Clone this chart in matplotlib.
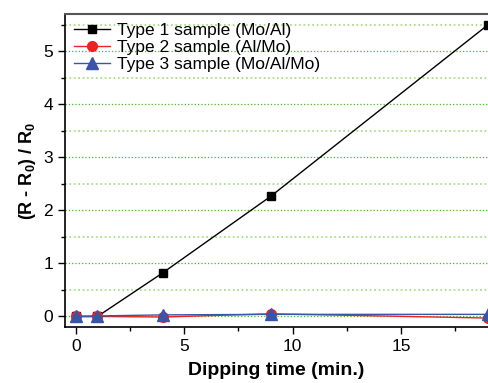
import matplotlib
matplotlib.use('Agg')
import matplotlib.pyplot as plt
from matplotlib.ticker import MultipleLocator

plt.rcParams['font.family'] = ['Liberation Sans', 'DejaVu Sans']
plt.rcParams['mathtext.fontset'] = 'custom'
plt.rcParams['mathtext.rm'] = 'Liberation Sans'
plt.rcParams['mathtext.bf'] = 'Liberation Sans:bold'

time = [0, 1, 4, 9, 19]
type1 = [0.0, 0.0, 0.82, 2.27, 5.50]
type2 = [0.0, 0.0, -0.01, 0.05, -0.03]
type3 = [0.0, 0.01, 0.03, 0.04, 0.04]
labels = ['Type 1 sample (Mo/Al)', 'Type 2 sample (Al/Mo)', 'Type 3 sample (Mo/Al/Mo)']

fig = plt.figure(figsize=(4.88, 3.83), dpi=100)
ax = fig.add_axes([0.133, 0.146, 0.867, 0.817])

ax.plot(time, type1, color='black', marker='s', markersize=6, lw=1, label=labels[0])
ax.plot(time, type2, color='#ee2020', marker='o', markersize=7, lw=1, label=labels[1])
ax.plot(time, type3, color='#3a55a8', marker='^', markersize=8, lw=1, label=labels[2])

ax.set_xlim(-0.5, 19)
ax.set_ylim(-0.2, 5.7)
ax.xaxis.set_major_locator(MultipleLocator(5))
ax.xaxis.set_minor_locator(MultipleLocator(2.5))
ax.yaxis.set_major_locator(MultipleLocator(1))
ax.yaxis.set_minor_locator(MultipleLocator(0.5))
ax.tick_params(which='major', direction='out', length=5, width=1, labelsize=12.5)
ax.tick_params(which='minor', direction='out', length=3, width=1)
ax.grid(which='major', axis='y', color='#44bb22', linestyle=':', lw=0.9)
ax.grid(which='minor', axis='y', color='#99dd77', linestyle=':', lw=1.2)
ax.set_axisbelow(True)

for s in ['left', 'bottom']:
    ax.spines[s].set_linewidth(1.2)
ax.spines['top'].set_color('#555555')
ax.spines['top'].set_linewidth(1.5)
ax.spines['right'].set_visible(False)

ax.set_xlabel('Dipping time (min.)', fontsize=14, fontweight='bold', labelpad=6)
ax.set_ylabel(r'(R - R$_\mathbf{0}$) / R$_\mathbf{0}$', fontsize=13, fontweight='bold')

ax.legend(loc='upper left', frameon=False, fontsize=12.5, handlelength=2.1,
          borderaxespad=0.1, labelspacing=0.12, handletextpad=0.4)

fig.savefig('out.png', dpi=100, facecolor='w')
